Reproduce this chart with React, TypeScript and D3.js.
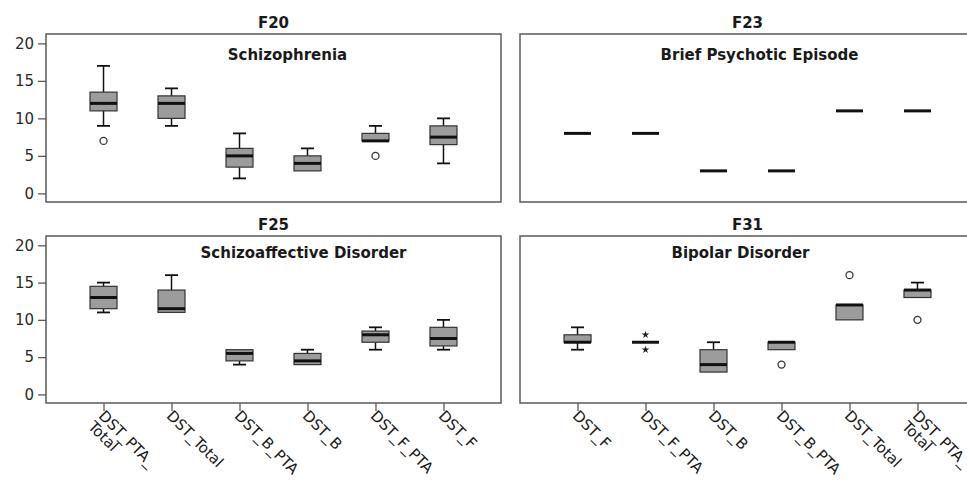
import { useEffect, useRef } from "react";
import * as d3 from "d3";

// x categories (the two columns use a different order)
const leftCategories = ["DST_PTA_Total", "DST_Total", "DST_B_PTA", "DST_B", "DST_F_PTA", "DST_F"];
const rightCategories = ["DST_F", "DST_F_PTA", "DST_B", "DST_B_PTA", "DST_Total", "DST_PTA_Total"];
const tickLabelLines: Record<string, string[]> = {
  DST_PTA_Total: ["DST_PTA_", "Total"],
};
const yTicks = [0, 5, 10, 15, 20];

// F20 Schizophrenia
const f20Min = [9, 9, 2, 3, 7, 4];
const f20Q1 = [11, 10, 3.5, 3, 7, 6.5];
const f20Median = [12, 12, 5, 4, 7, 7.5];
const f20Q3 = [13.5, 13, 6, 5, 8, 9];
const f20Max = [17, 14, 8, 6, 9, 10];
const f20Outliers = [[7], [], [], [], [5], []];

// F23 Brief Psychotic Episode (single value per variable)
const f23Values = [8, 8, 3, 3, 11, 11];

// F25 Schizoaffective Disorder
const f25Min = [11, 11, 4, 4, 6, 6];
const f25Q1 = [11.5, 11, 4.5, 4, 7, 6.5];
const f25Median = [13, 11.5, 5.5, 4.5, 8, 7.5];
const f25Q3 = [14.5, 14, 6, 5.5, 8.5, 9];
const f25Max = [15, 16, 6, 6, 9, 10];

// F31 Bipolar Disorder
const f31Min = [6, 7, 3, 6, 10, 13];
const f31Q1 = [7, 7, 3, 6, 10, 13];
const f31Median = [7, 7, 4, 7, 12, 14];
const f31Q3 = [8, 7, 6, 7, 12, 14];
const f31Max = [9, 7, 7, 7, 12, 15];
const f31Outliers = [[], [], [], [4], [16], [10]];
const f31Extremes = [[], [8, 6], [], [], [], []];

interface BoxStat {
  cat: string;
  min: number;
  q1: number;
  median: number;
  q3: number;
  max: number;
  outliers: number[];
  extremes: number[];
}

function buildStats(
  cats: string[],
  min: number[],
  q1: number[],
  median: number[],
  q3: number[],
  max: number[],
  outliers: number[][] = [],
  extremes: number[][] = []
): BoxStat[] {
  return cats.map((cat, i) => ({
    cat,
    min: min[i],
    q1: q1[i],
    median: median[i],
    q3: q3[i],
    max: max[i],
    outliers: outliers[i] || [],
    extremes: extremes[i] || [],
  }));
}

const FONT = "'DejaVu Sans', sans-serif";
const BOX_FILL = "#9c9c9c";
const FRAME = "#5a5a5a";

export default function App() {
  const svgRef = useRef<SVGSVGElement>(null);
  const width = 967;
  const height = 482;

  useEffect(() => {
    if (!svgRef.current) return;
    const svg = d3.select(svgRef.current);
    svg.selectAll("*").remove();

    const panels = [
      {
        code: "F20",
        title: "Schizophrenia",
        titleDx: 14,
        x0: 46, x1: 501, y0: 34, y1: 202,
        cats: leftCategories,
        stats: buildStats(leftCategories, f20Min, f20Q1, f20Median, f20Q3, f20Max, f20Outliers),
        yAxis: true, xAxis: false,
      },
      {
        code: "F23",
        title: "Brief Psychotic Episode",
        titleDx: 12,
        x0: 520, x1: 975, y0: 34, y1: 202,
        cats: rightCategories,
        stats: buildStats(rightCategories, f23Values, f23Values, f23Values, f23Values, f23Values),
        yAxis: false, xAxis: false,
      },
      {
        code: "F25",
        title: "Schizoaffective Disorder",
        titleDx: 30,
        x0: 46, x1: 501, y0: 236, y1: 403,
        cats: leftCategories,
        stats: buildStats(leftCategories, f25Min, f25Q1, f25Median, f25Q3, f25Max),
        yAxis: true, xAxis: true,
      },
      {
        code: "F31",
        title: "Bipolar Disorder",
        titleDx: -7,
        x0: 520, x1: 975, y0: 236, y1: 403,
        cats: rightCategories,
        stats: buildStats(rightCategories, f31Min, f31Q1, f31Median, f31Q3, f31Max, f31Outliers, f31Extremes),
        yAxis: false, xAxis: true,
      },
    ];

    panels.forEach((p) => {
      const x = d3.scalePoint<string>().domain(p.cats).range([p.x0, p.x1]).padding(0.846);
      const y = d3.scaleLinear().domain([-1.15, 21.25]).range([p.y1, p.y0]);
      const g = svg.append("g");
      const mid = (p.x0 + p.x1) / 2;

      // panel code above the frame
      g.append("text")
        .attr("x", mid)
        .attr("y", p.y0 - 6)
        .attr("text-anchor", "middle")
        .style("font-family", FONT)
        .style("font-size", "15px")
        .style("font-weight", "bold")
        .style("fill", "#1a1a1a")
        .text(p.code);

      // frame
      g.append("rect")
        .attr("x", p.x0)
        .attr("y", p.y0)
        .attr("width", p.x1 - p.x0)
        .attr("height", p.y1 - p.y0)
        .attr("fill", "white")
        .attr("stroke", FRAME)
        .attr("stroke-width", 1.5);

      g.append("text")
        .attr("x", mid + p.titleDx)
        .attr("y", p.y0 + (p.xAxis ? 22 : 26))
        .attr("text-anchor", "middle")
        .style("font-family", FONT)
        .style("font-size", "15px")
        .style("font-weight", "bold")
        .style("fill", "#1a1a1a")
        .text(p.title);

      if (p.yAxis) {
        const ax = g
          .append("g")
          .attr("transform", `translate(${p.x0},0)`)
          .call(d3.axisLeft(y).tickValues(yTicks).tickSize(8).tickPadding(4));
        ax.select(".domain").remove();
        ax.selectAll(".tick line").attr("stroke", FRAME).attr("stroke-width", 1.3);
        ax.selectAll("text")
          .style("font-family", FONT)
          .style("font-size", "15px")
          .style("fill", "#2a2a2a");
      }

      if (p.xAxis) {
        const ax = g
          .append("g")
          .attr("transform", `translate(0,${p.y1})`)
          .call(d3.axisBottom(x).tickSize(8).tickFormat(() => ""));
        ax.select(".domain").remove();
        ax.selectAll(".tick line").attr("stroke", FRAME).attr("stroke-width", 1.3);
        p.cats.forEach((c) => {
          const lines = tickLabelLines[c] || [c];
          const t = g
            .append("text")
            .attr("transform", `translate(${(x(c) as number) + 2},${p.y1 + 6}) rotate(45)`)
            .style("font-family", FONT)
            .style("font-size", "15px")
            .style("fill", "#1a1a1a");
          lines.forEach((line, i) => {
            t.append("tspan").attr("x", 0).attr("y", 11 + i * 15).text(line);
          });
        });
      }

      const boxW = 27;
      const capW = 13;
      const boxes = g.selectAll(".box").data(p.stats).join("g");

      boxes.each(function (d) {
        const b = d3.select(this);
        const cx = x(d.cat) as number;
        if (d.max > d.q3) {
          b.append("line")
            .attr("x1", cx).attr("x2", cx)
            .attr("y1", y(d.q3)).attr("y2", y(d.max))
            .attr("stroke", "#111").attr("stroke-width", 1.5);
          b.append("line")
            .attr("x1", cx - capW / 2).attr("x2", cx + capW / 2)
            .attr("y1", y(d.max)).attr("y2", y(d.max))
            .attr("stroke", "#111").attr("stroke-width", 1.8);
        }
        if (d.min < d.q1) {
          b.append("line")
            .attr("x1", cx).attr("x2", cx)
            .attr("y1", y(d.q1)).attr("y2", y(d.min))
            .attr("stroke", "#111").attr("stroke-width", 1.5);
          b.append("line")
            .attr("x1", cx - capW / 2).attr("x2", cx + capW / 2)
            .attr("y1", y(d.min)).attr("y2", y(d.min))
            .attr("stroke", "#111").attr("stroke-width", 1.8);
        }
        if (d.q3 > d.q1) {
          b.append("rect")
            .attr("x", cx - boxW / 2)
            .attr("y", y(d.q3))
            .attr("width", boxW)
            .attr("height", y(d.q1) - y(d.q3))
            .attr("fill", BOX_FILL)
            .attr("stroke", "#333")
            .attr("stroke-width", 1.2);
        }
        b.append("line")
          .attr("x1", cx - boxW / 2).attr("x2", cx + boxW / 2)
          .attr("y1", y(d.median)).attr("y2", y(d.median))
          .attr("stroke", "#111").attr("stroke-width", 3);

        d.outliers.forEach((v) => {
          b.append("circle")
            .attr("cx", cx)
            .attr("cy", y(v))
            .attr("r", 3.5)
            .attr("fill", "white")
            .attr("stroke", "#333")
            .attr("stroke-width", 1.3);
        });
        d.extremes.forEach((v) => {
          b.append("path")
            .attr("transform", `translate(${cx},${y(v)})`)
            .attr("d", d3.symbol().type(d3.symbolStar).size(18)())
            .attr("fill", "#222");
        });
      });
    });
  }, []);

  return (
    <svg
      ref={svgRef}
      width={width}
      height={height}
      style={{ position: "absolute", left: 0, top: 0, background: "white" }}
    />
  );
}
